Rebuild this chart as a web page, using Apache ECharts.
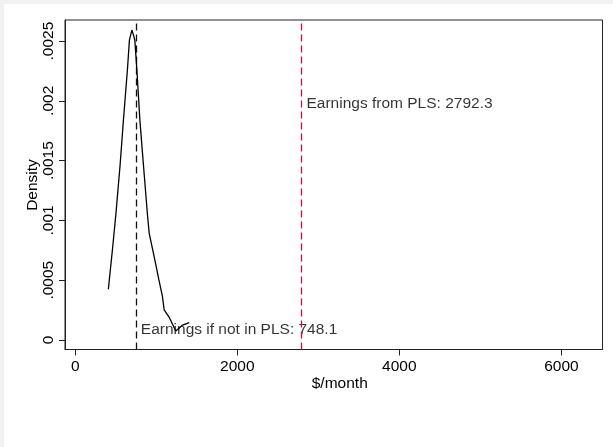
<!DOCTYPE html>
<html>
<head>
<meta charset="utf-8">
<script src="https://cdn.jsdelivr.net/npm/echarts@6/dist/echarts.min.js"></script>
<style>
  html, body { margin: 0; padding: 0; background: #f1f1f2; }
  #chart { position: absolute; left: 4px; top: 4px; width: 609px; height: 443px; background: #ffffff; }
</style>
</head>
<body>
<div id="chart"></div>
<script>
// Kernel density of earnings ($/month)
const earnings = [409, 459, 501, 554, 595, 644, 669, 699, 712, 722, 736, 761, 798, 842, 892, 913, 975, 1033, 1077, 1098, 1160, 1241, 1325, 1408];
const density  = [0.000424, 0.000753, 0.001045, 0.001463, 0.001839, 0.002258, 0.002508, 0.002592, 0.002566, 0.002552, 0.002508, 0.002258, 0.001839, 0.001463, 0.001045, 0.000892, 0.000696, 0.000502, 0.000362, 0.000251, 0.000190, 0.000075, 0.000125, 0.000145];

const refValues = [748.1, 2792.3];
const refLabels = ['Earnings if not in PLS: 748.1', 'Earnings from PLS: 2792.3'];
const refLabelY = [0.00009, 0.00198];
const refColors = ['#111111', '#c0143c'];

const xTicks = [0, 2000, 4000, 6000];
const xTickLabels = ['0', '2000', '4000', '6000'];
const yTicks = [0, 0.0005, 0.001, 0.0015, 0.002, 0.0025];
const yTickLabels = ['0', '.0005', '.001', '.0015', '.002', '.0025'];
const yTitle = 'Density';
const xTitle = '$/month';

const FONT = 'Liberation Sans, Arial, Helvetica, sans-serif';
const FS = 15.5;

const chart = echarts.init(document.getElementById('chart'));

const series = [{
  type: 'line',
  data: earnings.map((x, i) => [x, density[i]]),
  showSymbol: false,
  symbol: 'none',
  lineStyle: { color: '#000', width: 1.3 },
  z: 5
}];

refValues.forEach((v, i) => {
  series.push({
    type: 'scatter',
    data: [[v, refLabelY[i]]],
    symbolSize: 0,
    silent: true,
    label: {
      show: true,
      position: 'right',
      distance: 5,
      formatter: refLabels[i],
      color: '#000',
      fontFamily: FONT,
      fontSize: FS
    },
    markLine: {
      silent: true,
      symbol: 'none',
      label: { show: false },
      lineStyle: { color: refColors[i], type: [7, 4], width: 1.3 },
      data: [{ xAxis: v }]
    }
  });
});

function pick(ticks, labels) {
  return (val) => {
    const idx = ticks.findIndex(t => Math.abs(t - val) < 1e-9);
    return idx >= 0 ? labels[idx] : '';
  };
}

chart.setOption({
  animation: false,
  grid: {
    left: 61, top: 16, right: 10.5, bottom: 97.5,
    show: true, borderColor: '#222', borderWidth: 1, backgroundColor: '#fff'
  },
  graphic: [{
    type: 'text',
    x: 29, y: 181,
    rotation: Math.PI / 2,
    style: { text: yTitle, fill: '#000', font: FS + 'px ' + FONT, align: 'center', verticalAlign: 'middle' }
  }],
  xAxis: {
    type: 'value',
    min: -126, max: 6507,
    name: xTitle,
    nameLocation: 'middle',
    nameGap: 26,
    nameMoveOverlap: false,
    nameTextStyle: { color: '#000', fontFamily: FONT, fontSize: FS, padding: [0, 0, 0, 12] },
    axisLine: { show: true, onZero: false, lineStyle: { color: '#222', width: 1 } },
    axisTick: { show: true, length: 6, customValues: xTicks, lineStyle: { color: '#222' } },
    axisLabel: { customValues: xTicks, color: '#000', fontFamily: FONT, fontSize: FS, margin: 9, formatter: pick(xTicks, xTickLabels) },
    splitLine: { show: false }
  },
  yAxis: {
    type: 'value',
    min: -0.0000794, max: 0.002676,
    axisLine: { show: true, onZero: false, lineStyle: { color: '#222', width: 1 } },
    axisTick: { show: true, length: 6, customValues: yTicks, lineStyle: { color: '#222' } },
    axisLabel: {
      customValues: yTicks,
      rotate: 90,
      color: '#000', fontFamily: FONT, fontSize: FS, margin: 8,
      formatter: pick(yTicks, yTickLabels)
    },
    splitLine: { show: false }
  },
  series: series
});
</script>
</body>
</html>
